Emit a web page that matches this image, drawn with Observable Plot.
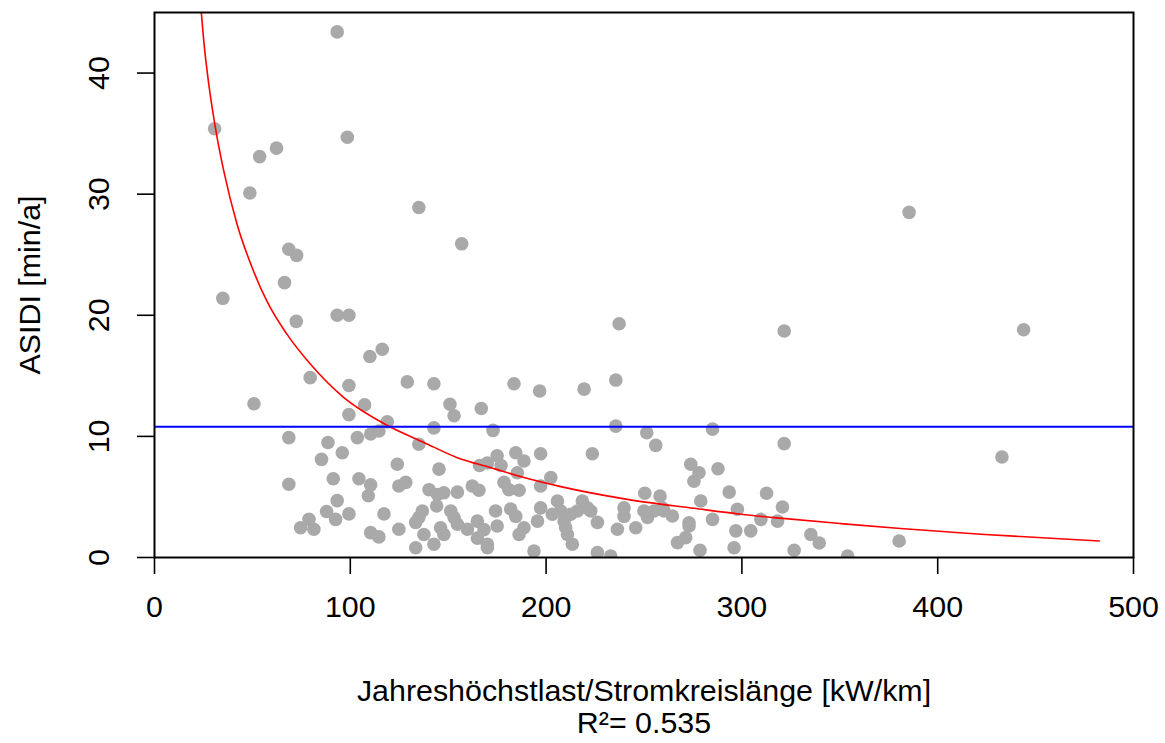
<!DOCTYPE html>
<html>
<head>
<meta charset="utf-8">
<script src="https://cdn.jsdelivr.net/npm/d3@7"></script>
<script src="https://cdn.jsdelivr.net/npm/@observablehq/plot@0.6"></script>
<style>
  html, body { margin: 0; padding: 0; background: #fff; }
  #chart svg { display: block; }
</style>
</head>
<body>
<div id="chart"></div>
<script>
// Scatter points: Jahreshöchstlast/Stromkreislänge [kW/km] vs ASIDI [min/a]
const loadDensity = [
  93.3, 30.7, 98.5, 62.3, 53.7, 48.7, 135, 385.4, 156.9, 68.6, 72.6, 66.4, 34.9, 93.3, 99.3, 72.4,
  237.3, 443.9, 321.6, 116.3, 110, 79.5, 99.3, 129.1, 142.7, 183.6, 196.7, 219.4, 235.6, 50.8, 107.3,
  150.9, 153, 166.9, 99.3, 118.9, 103.6, 110.4, 114.6, 68.6, 88.6, 95.9, 85.3, 124, 91.3, 104.4, 110.4,
  109.2, 68.6, 124.8, 93.3, 87.9, 92.5, 99.3, 117.2, 74.6, 78.9, 81.4, 110.4, 114.6, 124.8,
  142.7, 172.9, 235.6, 251.4, 135, 175, 170, 177, 166, 184.5, 188.7, 197.2, 223.6, 145.3, 185.3,
  128.3, 178.5, 181, 202.4, 197.2, 140.2, 144.5, 147.8, 154.7, 162.3, 165.7, 186.2, 144.1, 136.8,
  135, 133.4, 151.3, 153, 154.7, 164.9, 168.3, 170, 174.2, 175, 181.9, 184.5, 146.1, 147.8, 142.7,
  137.6, 133.4, 159.8, 164.9, 170, 186.2, 188.7, 195.6, 197.2, 205.8, 207.5, 203.2, 212.6, 216,
  218.5, 221.1, 222.8, 209.2, 210.9, 213.4, 226.2, 236.4, 226.2, 193.8, 233, 239.8, 245.8, 250,
  250.4, 285, 256, 321.6, 273.9, 278.1, 275.5, 287.8, 258.2, 293.5, 312.6, 279, 297.7, 320.7,
  255.1, 260.2, 264.5, 273, 285, 309.7, 318.2, 296.9, 304.5, 267.1, 271.3, 278.6, 296, 326.7,
  335.2, 339.5, 354, 380.3, 432.8, 210, 239.8, 251.8, 259.4, 273
];
const asidi = [
  43.4, 35.4, 34.7, 33.8, 33.1, 30.1, 28.9, 28.5, 25.9, 25.45, 24.95, 22.7, 21.4, 20.0, 20.0, 19.5,
  19.3, 18.8, 18.7, 17.2, 16.6, 14.85, 14.2, 14.5, 14.35, 14.35, 13.75, 13.9, 14.65, 12.7, 12.6,
  12.65, 11.7, 12.3, 11.8, 11.2, 9.9, 10.2, 10.45, 9.9, 9.5, 8.65, 8.1, 7.7, 6.5, 6.5, 6.0,
  5.1, 6.05, 5.9, 4.7, 3.8, 3.15, 3.6, 3.6, 2.46, 3.15, 2.33, 2.05, 1.7, 2.33,
  10.7, 10.5, 10.85, 10.3, 9.35, 8.4, 7.8, 7.6, 7.6, 8.65, 7.97, 8.57, 8.57, 7.3, 7.0,
  6.2, 6.2, 5.6, 6.6, 5.9, 5.6, 5.2, 5.35, 5.4, 5.9, 5.55, 5.55, 4.25, 3.84,
  3.3, 2.9, 3.84, 3.3, 2.74, 3.0, 2.3, 0.8, 3.84, 2.6, 4.0, 3.4, 2.46, 1.9, 1.1,
  1.9, 0.8, 2.33, 1.6, 1.1, 1.9, 2.46, 3.0, 4.1, 4.67, 3.84, 3.57, 3.57, 3.84,
  4.67, 4.1, 3.84, 3.0, 1.9, 1.1, 2.9, 2.33, 0.4, 0.53, 0.12, 4.1, 2.46, 3.84,
  5.3, 10.6, 9.26, 9.4, 7.7, 7.0, 6.3, 7.33, 5.08, 5.4, 5.3, 4.67, 3.98, 4.17,
  3.84, 3.84, 3.43, 2.87, 3.15, 3.15, 3.0, 2.2, 2.2, 1.23, 1.64, 0.6, 0.8, 0.6,
  1.9, 1.2, 0.12, 1.36, 8.3, 2.46, 3.4, 3.3, 4.1, 2.6
];

// Fitted curve (red)
const fitX = [23.9, 25.2, 27.7, 31.2, 35.4, 42.2, 50.7, 57.6, 67.8, 79.7, 96.7, 119, 137.6, 154.7,
              171.7, 188.7, 207.5, 241.5, 275.6, 299.4, 316.5, 350.5, 381, 422, 482.5];
const fitY = [45, 42.6, 39.1, 35.4, 31.9, 27.5, 23.6, 21.1, 18.4, 15.95, 13.2, 10.9, 9.5, 8.24,
              7.42, 6.6, 5.85, 4.8, 4.06, 3.57, 3.29, 2.8, 2.4, 1.92, 1.36];

// Mean ASIDI (blue line)
const meanAsidi = [10.8];

const xTicks = [0, 100, 200, 300, 400, 500];
const yTicks = [0, 10, 20, 30, 40];
const xTitle = "Jahreshöchstlast/Stromkreislänge [kW/km]";
const yTitle = "ASIDI [min/a]";
const r2Text = "R²= 0.535";

const points = loadDensity.map((x, i) => ({x, y: asidi[i]}));
const fit = fitX.map((x, i) => ({x, y: fitY[i]}));

const FS = 30.4;

const chart = Plot.plot({
  width: 1165,
  height: 743,
  marginLeft: 154,
  marginRight: 32,
  marginTop: 12,
  marginBottom: 186,
  style: {fontFamily: "'Liberation Sans', Arial, sans-serif", fontSize: FS + "px", color: "#000", background: "#fff"},
  x: {domain: [0, 500]},
  y: {domain: [0, 45]},
  marks: [
    Plot.dot(points, {x: "x", y: "y", r: 6.8, fill: "#A9A9A9", stroke: "none", clip: true}),
    Plot.line(fit, {x: "x", y: "y", stroke: "#FF0000", strokeWidth: 1.6, curve: "monotone-x", clip: true}),
    Plot.ruleY(meanAsidi, {stroke: "#0000FF", strokeWidth: 2}),
    Plot.frame({stroke: "#000", strokeWidth: 2}),
    Plot.axisX({ticks: xTicks, tickSize: 17, tickPadding: 21, tickFormat: d => String(d), label: null, strokeWidth: 1.6, fontSize: FS}),
    Plot.axisY({ticks: yTicks, tickSize: 17, tickPadding: 29, tickRotate: -90, tickFormat: d => String(d), label: null, strokeWidth: 1.6, fontSize: FS}),
    Plot.text([xTitle], {frameAnchor: "bottom", text: d => d, dy: 134, fontSize: FS, textAnchor: "middle", lineAnchor: "middle"}),
    Plot.text([r2Text], {frameAnchor: "bottom", text: d => d, dy: 166, fontSize: FS, textAnchor: "middle", lineAnchor: "middle"}),
    Plot.text([yTitle], {frameAnchor: "left", text: d => d, dx: -124, rotate: -90, fontSize: FS, textAnchor: "middle", lineAnchor: "middle"})
  ]
});
document.getElementById("chart").append(chart);
</script>
</body>
</html>
